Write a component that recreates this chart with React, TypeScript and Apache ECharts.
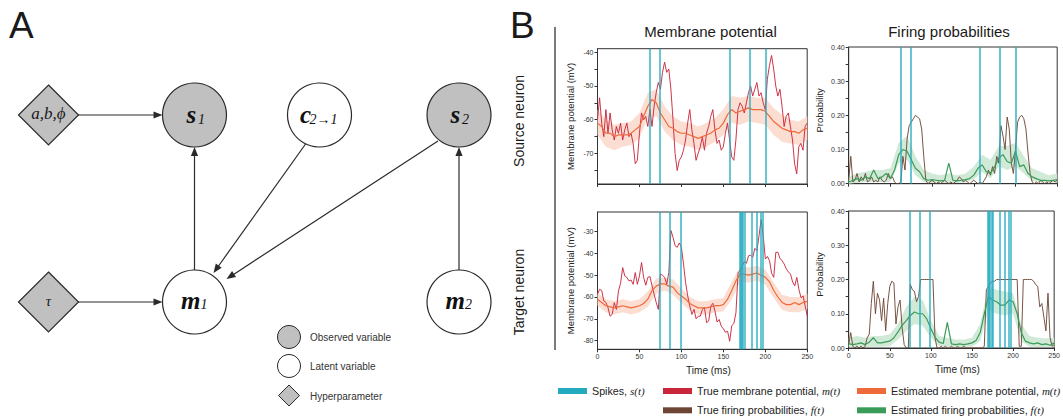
import { useEffect, useRef } from 'react';
import * as echarts from 'echarts';

// ---------- sampling times (ms) ----------
const TIME_FINE = Array.from({ length: 101 }, (_, i) => i * 2.5);
const TIME_EST = Array.from({ length: 51 }, (_, i) => i * 5);
const TIME_BAND = Array.from({ length: 26 }, (_, i) => i * 10);

// ---------- Source neuron: membrane potential (mV) ----------
const SRC_TRUE_M = [
  -60, -53.5, -61, -65, -57, -64, -58, -63, -66, -62,
  -64, -61, -66, -63, -61, -65, -64, -67, -73, -72,
  -64, -58, -60, -59, -62, -57, -62, -56, -52, -49,
  -51, -46, -43, -46, -45, -51, -60, -70, -75, -72,
  -71, -69, -66, -61, -57, -63, -67, -72, -70, -68,
  -65, -69, -64, -62, -59, -57, -63, -67, -66, -69,
  -68, -64, -61, -66, -71, -72, -66, -57, -55, -56,
  -58, -55, -52, -50, -53, -51, -49, -53, -52, -55,
  -57, -48, -44, -41, -45, -50, -53, -51, -56, -62,
  -59, -58, -62, -66, -73, -76, -68, -67, -69, -62,
  -61,
];
const SRC_EST_M = [
  -61, -62, -64, -64, -65, -64.5, -64.5, -64.5, -64, -63,
  -62, -59, -56, -54, -55, -58, -60, -62, -62.5, -63.5,
  -64, -64, -64.5, -65, -65.5, -65, -64.5, -64, -63, -62.5,
  -61, -58.5, -57, -58, -57.5, -57, -56.5, -57, -57, -57,
  -57.5, -59, -60.5, -61.5, -62.5, -63, -63.5, -63.5, -64, -63,
  -62.5,
];
const SRC_M_BAND_LO = [-64.5, -68, -69, -68, -67.5, -65.5, -59.5, -59, -63.5, -66, -67.5, -68, -69, -68, -66.5, -64.5, -61, -61.5, -60.5, -61, -61.5, -64.5, -66.5, -67, -67.5, -66];
const SRC_M_BAND_HI = [-57, -60, -61.5, -61, -60.5, -58, -52, -51, -56, -59, -60.5, -61, -62, -61, -59.5, -57, -53, -53.5, -53, -53.5, -53.5, -56.5, -58.5, -60, -60.5, -59];

// ---------- Source neuron: firing probabilities ----------
const SRC_TRUE_F = [
  0.01, 0.08, 0.005, 0.01, 0.03, 0.005, 0.02, 0.01, 0.03, 0.005,
  0.01, 0.02, 0.005, 0.01, 0.005, 0.02, 0.01, 0.005, 0.01, 0.03,
  0.015, 0.02, 0.005, 0, 0, 0.005, 0.08, 0.04, 0.13, 0.17,
  0.18, 0.19, 0.2, 0.195, 0.19, 0.16, 0.08, 0.01, 0, 0.005,
  0.01, 0.005, 0, 0.005, 0, 0.005, 0.01, 0.005, 0, 0.005,
  0, 0.005, 0.01, 0.02, 0.015, 0.005, 0.01, 0.005, 0, 0.005,
  0.01, 0.005, 0, 0.005, 0, 0.01, 0.02, 0.04, 0.025, 0.05,
  0.03, 0.08, 0.06, 0.17, 0.14, 0.1, 0.195, 0.16, 0.06, 0.03,
  0.1, 0.18, 0.195, 0.2, 0.19, 0.16, 0.09, 0.03, 0.005, 0,
  0.005, 0, 0.01, 0.005, 0, 0.005, 0, 0.005, 0.01, 0.005,
  0.01,
];
const SRC_EST_F = [
  0.005, 0.01, 0.015, 0.01, 0.02, 0.015, 0.04, 0.015, 0.02, 0.03,
  0.015, 0.04, 0.085, 0.1, 0.095, 0.07, 0.045, 0.035, 0.015, 0.01,
  0.012, 0.01, 0.008, 0.01, 0.06, 0.01, 0.008, 0.01, 0.012, 0.015,
  0.025, 0.045, 0.055, 0.035, 0.03, 0.05, 0.075, 0.085, 0.065, 0.06,
  0.095, 0.05, 0.055, 0.03, 0.02, 0.015, 0.01, 0.01, 0.008, 0.01,
  0.012,
];
const SRC_F_BAND_LO = [0, 0.003, 0.005, 0.005, 0.005, 0.005, 0.06, 0.07, 0.025, 0.005, 0.003, 0.002, 0.003, 0.002, 0.004, 0.012, 0.035, 0.015, 0.05, 0.04, 0.05, 0.03, 0.008, 0.004, 0.003, 0.004];
const SRC_F_BAND_HI = [0.02, 0.03, 0.035, 0.04, 0.04, 0.045, 0.12, 0.14, 0.08, 0.04, 0.03, 0.025, 0.03, 0.025, 0.03, 0.05, 0.085, 0.07, 0.11, 0.11, 0.12, 0.08, 0.045, 0.035, 0.025, 0.03];

// ---------- Target neuron: membrane potential (mV) ----------
const TGT_TRUE_M = [
  -58.8, -56.5, -57, -61.8, -62.5, -64.9, -68.8, -68, -62.6, -65.7,
  -57.2, -53.7, -46.5, -50.3, -51, -52.6, -52.2, -54.2, -48.8, -54.2,
  -50.3, -44.2, -51, -54.6, -51, -50.6, -54.9, -58.8, -62.6, -65.7,
  -49.5, -50, -51, -54.2, -48.8, -29.5, -32.6, -36.5, -37.2, -35.2,
  -37.2, -44.9, -53.4, -59.5, -64.2, -68, -65.7, -70, -68.8, -68.8,
  -65.7, -64.9, -71.8, -71, -64.2, -62.9, -66.5, -71.5, -70.3, -73.4,
  -74.6, -76.2, -75.7, -80.3, -73.1, -72.2, -67.2, -48.8, -48, -45.7,
  -43.8, -44.5, -41.1, -40.8, -41.8, -37.7, -38.8, -31.8, -24.5, -31.8,
  -42.6, -41.4, -43.4, -49.1, -51, -39.5, -39.5, -42.3, -43.4, -44.9,
  -47.2, -48.5, -49.5, -53.1, -54.9, -51, -56.5, -60.3, -59.5, -64.2,
  -68.8,
];
const TGT_EST_M = [
  -61, -62.5, -64, -64.5, -65, -64.5, -64, -64.5, -65, -64.5,
  -64, -63, -61, -57, -55, -54, -54, -55, -55.5, -58,
  -59.5, -61, -63, -64, -65, -65, -65, -64.5, -64, -64,
  -63.5, -61, -57, -52.5, -49.5, -49.5, -50, -49.5, -49, -50,
  -51, -53, -57, -60, -62.5, -63.5, -63.5, -62.5, -63.5, -62.5,
  -62,
];
const TGT_M_BAND_LO = [-64, -67, -68, -67, -68, -67, -64.5, -58.5, -57, -59, -63, -66, -68, -68, -67, -66.5, -61, -53, -53.5, -52.5, -54.5, -60.5, -66, -67, -67, -65.5];
const TGT_M_BAND_HI = [-58, -61, -62, -61, -62, -61, -57.5, -51.5, -51, -52, -56, -60, -62, -62, -61, -60.5, -53, -46, -46.5, -45.5, -47.5, -53.5, -59, -60, -60, -58.5];

// ---------- Target neuron: firing probabilities ----------
const TGT_TRUE_F = [
  0.01, 0.045, 0.005, 0, 0.005, 0, 0.005, 0, 0.005, 0.03,
  0.04, 0.13, 0.195, 0.1, 0.16, 0.14, 0.08, 0.145, 0.05, 0.13,
  0.18, 0.195, 0.19, 0.07, 0.12, 0.14, 0.06, 0.01, 0, 0,
  0.185, 0.17, 0.165, 0.135, 0.15, 0.2, 0.2, 0.2, 0.2, 0.2,
  0.2, 0.2, 0.03, 0, 0, 0.005, 0, 0.005, 0, 0,
  0.005, 0, 0, 0.005, 0, 0, 0.005, 0, 0, 0,
  0, 0, 0, 0, 0, 0, 0.005, 0.17, 0.18, 0.19,
  0.195, 0.195, 0.2, 0.2, 0.2, 0.2, 0.2, 0.2, 0.2, 0.2,
  0.2, 0.2, 0.2, 0.005, 0.005, 0.2, 0.2, 0.2, 0.2, 0.2,
  0.195, 0.185, 0.18, 0.12, 0.13, 0.09, 0.05, 0.16, 0.03, 0.005,
  0.01,
];
const TGT_EST_F = [
  0.013, 0.01, 0.012, 0.015, 0.01, 0.017, 0.03, 0.015, 0.015, 0.018,
  0.02, 0.03, 0.047, 0.066, 0.08, 0.095, 0.105, 0.1, 0.1, 0.085,
  0.056, 0.032, 0.017, 0.013, 0.075, 0.012, 0.01, 0.012, 0.01, 0.012,
  0.015, 0.022, 0.045, 0.1, 0.15, 0.14, 0.135, 0.125, 0.125, 0.14,
  0.135, 0.1, 0.045, 0.02, 0.015, 0.012, 0.015, 0.01, 0.012, 0.008,
  0.015,
];
const TGT_F_BAND_LO = [0.002, 0.003, 0.003, 0.004, 0.004, 0.005, 0.025, 0.05, 0.07, 0.065, 0.03, 0.005, 0.004, 0.003, 0.003, 0.004, 0.02, 0.11, 0.1, 0.095, 0.1, 0.02, 0.004, 0.003, 0.003, 0.004];
const TGT_F_BAND_HI = [0.03, 0.035, 0.03, 0.035, 0.035, 0.04, 0.07, 0.12, 0.15, 0.14, 0.08, 0.035, 0.03, 0.025, 0.025, 0.03, 0.07, 0.18, 0.17, 0.165, 0.16, 0.07, 0.035, 0.03, 0.028, 0.03];

// ---------- spikes (ms) ----------
const SRC_SPIKES = [62, 74, 157.5, 181.5, 200.5];
const TGT_SPIKES = [74, 86, 99.2, 169, 170.5, 172, 173.5, 175, 184, 190, 195, 197];

// ---------- ticks ----------
const SRC_M_LABELS = [-70, -60, -50, -40];
const SRC_M_TICKS = [-75, -70, -65, -60, -55, -50, -45, -40];
const TGT_M_LABELS = [-80, -70, -60, -50, -40, -30];
const PROB_LABELS = [0, 0.1, 0.2, 0.3, 0.4];
const PROB_TICKS = [0, 0.05, 0.1, 0.15, 0.2, 0.25, 0.3, 0.35, 0.4];

const C_SPIKE = '#25abbf';
const C_TRUE_M = '#c9253b';
const C_EST_M = '#ef6a3a';
const C_BAND_M = '#fcdbcf';
const C_TRUE_F = '#6d4535';
const C_EST_F = '#3b9b59';
const C_BAND_F = '#cfe9d5';
const INK = '#2a2a2a';
const SANS = 'Liberation Sans, Arial, sans-serif';
const SERIF = 'Liberation Serif, Times New Roman, serif';

const pair = (ts: number[], vs: number[]) => vs.map((v, i) => [ts[i], v]);

function bandSeries(gi: number, lo: number[], hi: number[], color: string) {
  return {
    type: 'custom', name: 'band-' + gi, xAxisIndex: gi, yAxisIndex: gi, silent: true, z: 1,
    data: TIME_BAND.map((t, i) => [t, lo[i], hi[i]]),
    encode: { x: 0, y: [1, 2] },
    renderItem: (params: any, api: any) => {
      if (params.dataIndex !== 0) return null;
      const upper = TIME_BAND.map((t, i) => api.coord([t, hi[i]]));
      const lower = TIME_BAND.map((t, i) => api.coord([t, lo[i]])).reverse();
      return { type: 'polygon', shape: { points: upper.concat(lower) }, style: { fill: color, opacity: 0.95 } };
    },
  };
}

function panelSeries(gi: number, trueName: string, estName: string, trueV: number[], estV: number[], lo: number[], hi: number[], spikes: number[], cTrue: string, cEst: string, cBand: string) {
  const common = { xAxisIndex: gi, yAxisIndex: gi, symbol: 'none', silent: true, animation: false };
  return [
    bandSeries(gi, lo, hi, cBand),
    { ...common, type: 'line', name: trueName, data: pair(TIME_FINE, trueV), lineStyle: { color: cTrue, width: 1, opacity: 0.92 }, itemStyle: { color: cTrue }, z: 2 },
    { ...common, type: 'line', name: estName, data: pair(TIME_EST, estV), lineStyle: { color: cEst, width: 1.2 }, itemStyle: { color: cEst }, z: 3 },
    {
      ...common, type: 'line', name: 'Spikes', data: [], itemStyle: { color: C_SPIKE }, z: 4,
      markLine: { silent: true, symbol: ['none', 'none'], label: { show: false }, emphasis: { disabled: true }, lineStyle: { color: C_SPIKE, width: 1.5, type: 'solid', opacity: 0.9 }, data: spikes.map((t) => ({ xAxis: t })) },
    },
  ];
}

function arrow(x1: number, y1: number, x2: number, y2: number) {
  const dx = x2 - x1, dy = y2 - y1, L = Math.hypot(dx, dy), ux = dx / L, uy = dy / L;
  const hl = 9, hw = 3.6;
  const bx = x2 - ux * hl, by = y2 - uy * hl;
  return [
    { type: 'line', shape: { x1, y1, x2: bx + ux * 1, y2: by + uy * 1 }, style: { stroke: INK, lineWidth: 1.2 } },
    { type: 'polygon', shape: { points: [[x2, y2], [bx - uy * hw, by + ux * hw], [bx + uy * hw, by - ux * hw]] }, style: { fill: INK } },
  ];
}

function diamond(cx: number, cy: number, h: number) {
  return { type: 'polygon', shape: { points: [[cx, cy - h], [cx + h, cy], [cx, cy + h], [cx - h, cy]] }, style: { fill: '#c0c0c0', stroke: INK, lineWidth: 1.2 } };
}
function node(cx: number, cy: number, observed: boolean) {
  return { type: 'circle', shape: { cx, cy, r: 32 }, style: { fill: observed ? '#c0c0c0' : '#ffffff', stroke: INK, lineWidth: 1.2 } };
}
function txt(x: number, y: number, text: string, fontSize: number, extra: any = {}) {
  return { type: 'text', x, y, style: { text, fontSize, fontFamily: SANS, fill: '#1a1a1a', textAlign: 'left', textVerticalAlign: 'middle', ...extra } };
}
function mathLabel(x: number, y: number, main: string, sub: string, subX: number) {
  return [
    txt(x, y, main, 25, { fontFamily: SERIF, fontStyle: 'italic', fontWeight: 'bold', fill: '#111' }),
    txt(subX, y + 4.5, sub, 14, { fontFamily: SERIF, fontStyle: 'italic', fill: '#111' }),
  ];
}

const LEGEND_LABELS: Record<string, string> = {
  'Spikes': 'Spikes, {i|s(t)}',
  'True membrane potential': 'True membrane potential, {i|m(t)}',
  'Estimated membrane potential': 'Estimated membrane potential, {i|m(t)}',
  'True firing probabilities': 'True firing probabilities, {i|f(t)}',
  'Estimated firing probabilities': 'Estimated firing probabilities, {i|f(t)}',
};

export default function App() {
  const ref = useRef<HTMLDivElement>(null);
  useEffect(() => {
    if (!ref.current) return;
    const chart = echarts.init(ref.current, undefined, { renderer: 'svg' });

    const grids = [
      { left: 597.5, top: 48.7, width: 209.7, height: 135.3 },
      { left: 848.7, top: 47, width: 208.5, height: 136.7 },
      { left: 597.5, top: 212, width: 209.8, height: 137.3 },
      { left: 848.7, top: 211, width: 208.5, height: 137 },
    ].map((g) => ({ ...g, show: true, borderColor: '#333', borderWidth: 1, backgroundColor: 'transparent' }));

    const axisLine = { show: true, lineStyle: { color: '#333', width: 1 } };
    const xAxis = [0, 1, 2, 3].map((gi) => ({
      gridIndex: gi, type: 'value', min: 0, max: 250, interval: 50,
      axisLine, axisTick: { show: true, length: 3, lineStyle: { color: '#333' } },
      splitLine: { show: false },
      axisLabel: gi < 2 ? { show: false } : { show: true, fontSize: 7, color: '#333', margin: 4, fontFamily: SANS },
      name: gi < 2 ? '' : 'Time (ms)', nameLocation: 'middle', nameGap: 16,
      nameTextStyle: { fontSize: 10, color: '#222', fontFamily: SANS, padding: [0, 0, 0, 12] },
    }));
    const yLabel = { fontSize: 7, color: '#333', margin: 4, fontFamily: SANS };
    const yTick = { show: true, length: 3, lineStyle: { color: '#333' } };
    const memName = { name: 'Membrane potential (mV)', nameLocation: 'middle', nameGap: 22, nameTextStyle: { fontSize: 9.5, color: '#222', fontFamily: SANS } };
    const probName = { name: 'Probability', nameLocation: 'middle', nameGap: 24, nameTextStyle: { fontSize: 9.5, color: '#222', fontFamily: SANS, padding: [0, 0, 0, 10] } };
    const yAxis = [
      { gridIndex: 0, type: 'value', min: -79, max: -39, axisLine, splitLine: { show: false }, axisLabel: { ...yLabel, customValues: SRC_M_LABELS }, axisTick: { ...yTick, customValues: SRC_M_TICKS }, ...memName },
      { gridIndex: 1, type: 'value', min: 0, max: 0.4, axisLine, splitLine: { show: false }, axisLabel: { ...yLabel, customValues: PROB_LABELS, formatter: (v: number) => v.toFixed(2) }, axisTick: { ...yTick, customValues: PROB_TICKS }, ...probName },
      { gridIndex: 2, type: 'value', min: -84, max: -21, axisLine, splitLine: { show: false }, axisLabel: { ...yLabel, customValues: TGT_M_LABELS }, axisTick: { ...yTick, customValues: TGT_M_LABELS }, ...memName },
      { gridIndex: 3, type: 'value', min: 0, max: 0.4, axisLine, splitLine: { show: false }, axisLabel: { ...yLabel, customValues: PROB_LABELS, formatter: (v: number) => v.toFixed(2) }, axisTick: { ...yTick, customValues: PROB_TICKS }, ...probName },
    ];

    const series = [
      ...panelSeries(0, 'True membrane potential', 'Estimated membrane potential', SRC_TRUE_M, SRC_EST_M, SRC_M_BAND_LO, SRC_M_BAND_HI, SRC_SPIKES, C_TRUE_M, C_EST_M, C_BAND_M),
      ...panelSeries(1, 'True firing probabilities', 'Estimated firing probabilities', SRC_TRUE_F, SRC_EST_F, SRC_F_BAND_LO, SRC_F_BAND_HI, SRC_SPIKES, C_TRUE_F, C_EST_F, C_BAND_F),
      ...panelSeries(2, 'True membrane potential', 'Estimated membrane potential', TGT_TRUE_M, TGT_EST_M, TGT_M_BAND_LO, TGT_M_BAND_HI, TGT_SPIKES, C_TRUE_M, C_EST_M, C_BAND_M),
      ...panelSeries(3, 'True firing probabilities', 'Estimated firing probabilities', TGT_TRUE_F, TGT_EST_F, TGT_F_BAND_LO, TGT_F_BAND_HI, TGT_SPIKES, C_TRUE_F, C_EST_F, C_BAND_F),
    ];

    const legendBase = {
      orient: 'horizontal', padding: 0, itemWidth: 29, itemHeight: 6, icon: 'rect', selectedMode: false,
      formatter: (n: string) => LEGEND_LABELS[n] || n,
      textStyle: { fontSize: 10.7, color: '#222', fontFamily: SANS, lineHeight: 13, rich: { i: { fontFamily: SERIF, fontStyle: 'italic', fontSize: 11, color: '#222' } } },
    };
    const legend = [
      { ...legendBase, data: ['Spikes'], left: 558, top: 384.5 },
      { ...legendBase, data: ['True membrane potential'], left: 663, top: 384.5 },
      { ...legendBase, data: ['Estimated membrane potential'], left: 857, top: 384.5 },
      { ...legendBase, data: ['True firing probabilities'], left: 663, top: 403.8 },
      { ...legendBase, data: ['Estimated firing probabilities'], left: 857, top: 403.8 },
    ];

    const graphic: any[] = [
      txt(9, 25, 'A', 37),
      txt(510, 25, 'B', 37),
      ...arrow(78, 115, 162.5, 115),
      ...arrow(78, 302, 162.5, 302),
      ...arrow(194.5, 270, 194.5, 147),
      ...arrow(459, 270, 459, 147),
      ...arrow(307, 142, 213.5, 273),
      ...arrow(438, 141, 226.5, 279),
      diamond(48.5, 115, 30),
      diamond(48.5, 302, 30),
      node(194.5, 115, true),
      node(319.5, 115, false),
      node(459, 115, true),
      node(194.5, 302, false),
      node(459, 302, false),
      txt(48.5, 113, 'a,b,\u03d5', 17, { fontFamily: SERIF, fontStyle: 'italic', textAlign: 'center' }),
      txt(48.5, 301, '\u03c4', 15, { fontFamily: SERIF, fontStyle: 'italic', textAlign: 'center' }),
      ...mathLabel(186.5, 114.5, 's', '1', 198),
      ...mathLabel(300, 114.5, 'c', '2\u21921', 309.5),
      ...mathLabel(450.5, 114.5, 's', '2', 462),
      ...mathLabel(181, 300, 'm', '1', 200.5),
      ...mathLabel(445.5, 300, 'm', '2', 465),
      { type: 'circle', shape: { cx: 289, cy: 337, r: 11.5 }, style: { fill: '#c0c0c0', stroke: INK, lineWidth: 1 } },
      { type: 'circle', shape: { cx: 289, cy: 366, r: 11.5 }, style: { fill: '#fff', stroke: INK, lineWidth: 1 } },
      { type: 'polygon', shape: { points: [[289, 385], [299.5, 395.5], [289, 406], [278.5, 395.5]] }, style: { fill: '#c0c0c0', stroke: INK, lineWidth: 1 } },
      txt(310, 337, 'Observed variable', 10, { fill: '#333' }),
      txt(310, 366, 'Latent variable', 10, { fill: '#333' }),
      txt(310, 396, 'Hyperparameter', 10, { fill: '#333' }),
      { type: 'line', shape: { x1: 555, y1: 27, x2: 555, y2: 350 }, style: { stroke: '#222', lineWidth: 1.2 } },
      { type: 'text', x: 519, y: 121, rotation: Math.PI / 2, style: { text: 'Source neuron', fontSize: 14, fontFamily: SANS, fill: '#1a1a1a', textAlign: 'center', textVerticalAlign: 'middle' } },
      { type: 'text', x: 519, y: 292, rotation: Math.PI / 2, style: { text: 'Target neuron', fontSize: 14, fontFamily: SANS, fill: '#1a1a1a', textAlign: 'center', textVerticalAlign: 'middle' } },
      txt(710.5, 31.5, 'Membrane potential', 15, { textAlign: 'center' }),
      txt(949, 31.5, 'Firing probabilities', 15, { textAlign: 'center' }),
    ];

    chart.setOption({
      animation: false,
      backgroundColor: '#ffffff',
      textStyle: { fontFamily: SANS },
      grid: grids,
      xAxis,
      yAxis,
      series,
      legend,
      graphic,
    });
    return () => chart.dispose();
  }, []);
  return <div ref={ref} style={{ position: 'fixed', left: 0, top: 0, width: 1063, height: 417 }} />;
}
